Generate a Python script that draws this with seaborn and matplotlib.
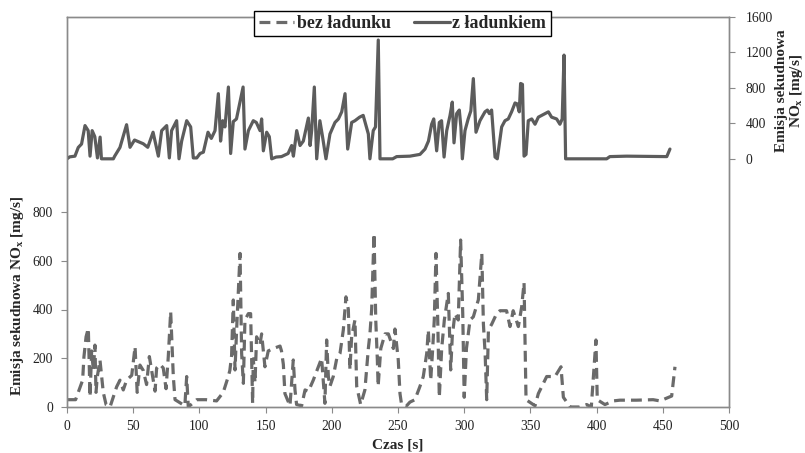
import matplotlib
matplotlib.use("Agg")
import matplotlib.pyplot as plt
import seaborn as sns
import pandas as pd

# --- data: time [s] and NOx emission [mg/s] ---
t_z = [0, 2, 6, 8.5, 11, 13.6, 16, 17.4, 19, 21, 23, 25, 26, 28, 35, 36, 40, 45, 47.6, 51,
       57.6, 61, 65, 69, 71.5, 75.3, 77.3, 79, 82.8, 84.6, 86.6, 90.4, 93.4, 95.4, 98, 100.5, 103, 106.5, 109, 111.8,
       114.3, 116, 117.6, 119.3, 121.9, 123.6, 125.6, 128, 133, 134.4, 137, 140.7, 143, 145.8, 147, 148.3, 150.8, 152.8, 154.6, 158,
       162, 167, 169.7, 171, 173.5, 176, 178.5, 182.3, 183.6, 184.8, 186.8, 188.6, 191, 193, 195.6, 198.6, 202.4, 205, 207.5, 210,
       212, 215, 217.5, 221, 223.7, 227.6, 228.8, 231.3, 233, 235.1, 236.4, 246, 249, 259, 266.6, 270.4, 273, 275.4, 277, 279.2,
       281.2, 282.9, 284.8, 286.8, 289.3, 291, 292.3, 294.3, 296.3, 297.5, 298.6, 300.6, 303, 305, 306.9, 308.9, 311.9, 315.7, 317.5, 319,
       320.7, 323.3, 325, 328.3, 330.8, 333.3, 335.8, 338.4, 340, 341.6, 342.6, 344, 345.2, 346.7, 348.4, 351, 353.5, 356, 359.8, 363.6,
       366, 369.8, 372.3, 374, 375.4, 376.6, 407.6, 410, 422.6, 453, 455.4]
nox_z = [0, 22, 30, 128, 167, 375, 318, 30, 318, 250, 10, 245, 0, 0, 0, 30, 128, 385, 130, 212,
         170, 130, 300, 30, 318, 375, 10, 318, 430, 0, 200, 430, 360, 10, 10, 60, 75, 300, 230, 318,
         735, 200, 430, 360, 810, 60, 420, 450, 810, 110, 318, 430, 410, 318, 450, 90, 300, 250, 0, 20,
         25, 60, 150, 30, 318, 150, 200, 460, 150, 320, 810, 0, 430, 250, 0, 280, 410, 450, 530, 735,
         110, 410, 430, 470, 490, 280, 0, 318, 360, 1340, 0, 0, 25, 30, 50, 110, 200, 390, 450, 90,
         410, 430, 20, 318, 490, 640, 180, 510, 550, 360, 0, 318, 450, 540, 905, 300, 430, 530, 550, 510,
         550, 20, 0, 360, 430, 450, 530, 630, 620, 530, 850, 840, 30, 50, 430, 450, 390, 470, 500, 530,
         470, 450, 390, 450, 1170, 0, 0, 25, 30, 25, 110]

t_bez = [0, 6.5, 11.8, 12.8, 14.4, 16.1, 17.4, 18.6, 19.9, 21.1, 21.9, 22.9, 24.9, 27.4, 29.5, 32.5, 35, 37.5, 40, 42.5,
         45, 48.9, 51.4, 53, 55.1, 57.6, 60.1, 62.2, 66.5, 67.7, 70.2, 72.7, 74.8, 76.5, 78.3, 80.3, 81.6, 89, 90.4, 91.6,
         98, 105, 113, 118, 121.8, 123, 124.3, 125.6, 126.9, 128.1, 130.7, 131.9, 133.2, 134.4, 137, 138.7, 140.2, 140.7, 142, 143.2,
         145.7, 147, 149.5, 152, 155.8, 160.9, 162, 163.4, 164.6, 168.4, 170.9, 172.2, 173.4, 177.2, 179.8, 182.3, 186, 189.8, 192.3, 194.8,
         196.1, 197.4, 198.6, 201.1, 203.7, 206.2, 208.7, 210.7, 212.5, 213.7, 215, 217.5, 218.8, 221.8, 225, 227.6, 228.8, 230.1, 231.9, 233.2,
         234.4, 235, 237, 240.2, 242.7, 246.5, 247.7, 250.2, 251.5, 252.7, 256.5, 259, 262.8, 266.6, 269.1, 271.7, 272.9, 274.7, 276, 277.4,
         278.7, 280, 281.2, 283, 285, 288, 289.8, 291, 293, 295.5, 297.3, 298.9, 300, 301.7, 304.4, 306.9, 310.7, 313.3, 314.5, 315.8,
         317, 318.3, 320.8, 324.5, 327, 332, 334.6, 337, 340.9, 343.4, 345.2, 346.7, 353.5, 356, 362.3, 368.6, 373.1, 374.9, 380, 387,
         392.5, 396, 399.5, 400.5, 406.3, 412.6, 417.6, 430, 442.7, 447.9, 456.7, 459.2]
nox_bez = [30, 30, 110, 206, 288, 323, 42, 230, 150, 254, 60, 125, 193, 60, 10, 0, 42, 83, 110, 70,
           110, 130, 247, 60, 172, 150, 92, 207, 65, 160, 175, 160, 75, 207, 391, 125, 30, 5, 125, 0,
           30, 30, 25, 60, 125, 150, 210, 439, 152, 316, 630, 220, 97, 357, 383, 383, 15, 198, 100, 288,
           255, 300, 165, 230, 240, 250, 230, 175, 55, 5, 193, 70, 10, 5, 70, 64, 110, 165, 200, 15,
           275, 125, 85, 125, 198, 220, 316, 452, 400, 153, 290, 357, 85, 10, 70, 240, 300, 400, 712, 357,
           193, 85, 240, 300, 300, 240, 320, 193, 55, 10, 5, 20, 30, 85, 125, 220, 316, 110, 220, 357,
           630, 357, 40, 240, 357, 466, 152, 290, 383, 357, 685, 383, 40, 240, 357, 370, 440, 630, 340, 220,
           30, 316, 340, 383, 395, 395, 330, 395, 330, 410, 510, 30, 5, 55, 125, 125, 165, 40, 0, 0,
           10, 0, 275, 30, 10, 25, 28, 28, 30, 25, 45, 165]

x_ticks = [0, 50, 100, 150, 200, 250, 300, 350, 400, 450, 500]
left_ticks = [0, 200, 400, 600, 800]
right_ticks = [0, 400, 800, 1200, 1600]

df_z = pd.DataFrame({"t": t_z, "nox": nox_z})
df_bez = pd.DataFrame({"t": t_bez, "nox": nox_bez})

sns.set_style("white")
plt.rcParams["font.family"] = ["Liberation Serif", "DejaVu Serif"]
plt.rcParams["mathtext.fontset"] = "custom"
plt.rcParams["mathtext.rm"] = "Liberation Serif"
plt.rcParams["mathtext.bf"] = "Liberation Serif:bold"
plt.rcParams["mathtext.it"] = "Liberation Serif:italic"

fig = plt.figure(figsize=(8.05, 4.53), dpi=100)
ax = fig.add_axes([67 / 805, 1 - 407 / 453, (729 - 67) / 805, (407 - 17) / 453])
ax2 = ax.twinx()

line_col = "#5c5c5c"
sns.lineplot(data=df_bez, x="t", y="nox", ax=ax, color="#6a6a6a", linewidth=2.3,
             linestyle=(0, (3.4, 1.9)), label="bez ładunku", legend=False)
sns.lineplot(data=df_z, x="t", y="nox", ax=ax2, color=line_col, linewidth=2.3,
             label="z ładunkiem", legend=False)

ax.set_xlim(0, 500)
ax.set_ylim(0, 1600)
ax2.set_ylim(-2800, 1600)
ax.set_xticks(x_ticks)
ax.set_yticks(left_ticks)
ax2.set_yticks(right_ticks)

spine_col = "#8a8a8a"
for a in (ax, ax2):
    for s in a.spines.values():
        s.set_color(spine_col)
        s.set_linewidth(1.0)
        s.set_visible(True)
    a.tick_params(colors="#222222", labelsize=9.8, length=4, width=0.8, color=spine_col, direction="out")
ax.tick_params(axis="y", left=True, right=False, pad=6)
ax.tick_params(axis="x", bottom=True, pad=5)
ax2.tick_params(axis="y", right=True, left=False, pad=8)

ax.set_xlabel("Czas [s]", fontsize=11, fontweight="bold", labelpad=4)
ax.set_ylabel(r"Emisja sekudnowa $\mathbf{NO_x}$ [mg/s]", fontsize=11, fontweight="bold")
ax.yaxis.set_label_coords(-0.062, 0.285)
ax2.set_ylabel("Emisja sekudnowa\n" + r"$\mathbf{NO_x}$ [mg/s]", fontsize=11, fontweight="bold",
               linespacing=0.95)
ax2.yaxis.set_label_coords(1.07, 0.81)
ax.grid(False)
ax2.grid(False)

h1, l1 = ax.get_legend_handles_labels()
h2, l2 = ax2.get_legend_handles_labels()
leg = fig.legend(h1 + h2, l1 + l2, loc="center", bbox_to_anchor=(0.5, 1 - 23.5 / 453), ncol=2,
                 frameon=True, fancybox=False, handlelength=2.0, handletextpad=0.15, columnspacing=1.3,
                 borderpad=0.25, prop={"family": "Liberation Serif", "weight": "bold", "size": 12.8})
leg.get_frame().set_edgecolor("black")
leg.get_frame().set_linewidth(1.0)
leg.get_frame().set_alpha(1)

fig.savefig("out.png", dpi=100)
